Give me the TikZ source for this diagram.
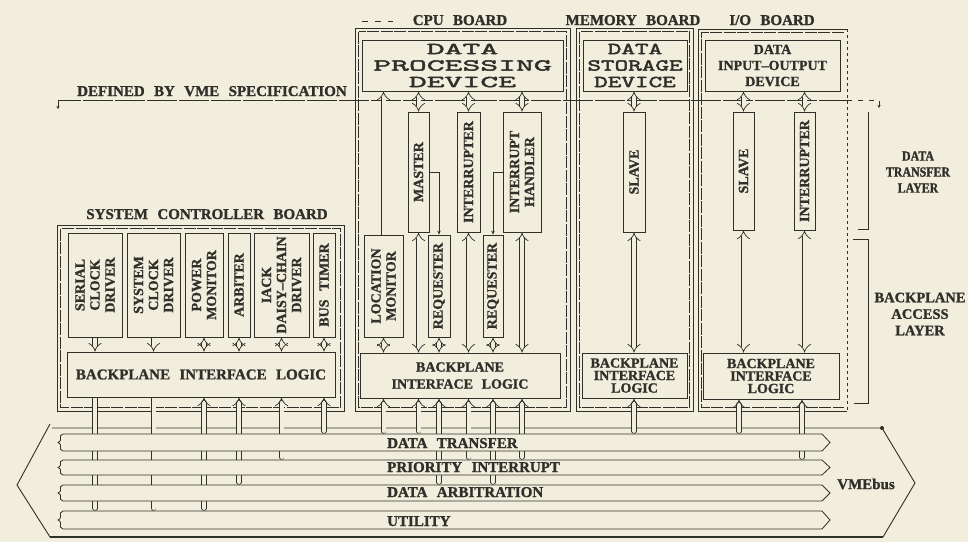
\documentclass[tikz,border=0pt]{standalone}
\usepackage{fontspec}
\setmainfont{Liberation Serif}
\newfontfamily\labfont[WordSpace=2.5, FakeBold=1.2]{Liberation Serif Bold}
\newfontfamily\condfont[FakeStretch=0.85, FakeBold=1.2]{Liberation Serif Bold}
\newfontfamily\devA[FakeStretch=2.1, FakeBold=3]{Latin Modern Mono}
\newfontfamily\devB[FakeStretch=1.6, FakeBold=3]{Latin Modern Mono}
\usetikzlibrary{arrows.meta}
\definecolor{paper}{RGB}{242,238,222}
\definecolor{ink}{RGB}{48,48,42}
\pgfdeclarelayer{back}
\pgfsetlayers{back,main}
\newcommand\buslane[2]{%
 \filldraw[draw=ink, fill=paper, line width=0.8pt]
 (63,#1) -- (822,#1) -- (830,{(#1+#2)/2}) -- (822,#2) -- (63,#2)
 .. controls (57,{#2-2}) and (64,{(#1+#2)/2+3}) .. (58,{(#1+#2)/2})
 .. controls (64,{(#1+#2)/2-3}) and (57,{#1+2}) .. cycle;}
\begin{document}
\begin{tikzpicture}[x=1pt,y=-1pt,
 ln/.style={draw=ink, line width=0.8pt},
 box/.style={draw=ink, line width=0.8pt, fill=paper, inner sep=0pt},
 hl/.style={font=\fontsize{15}{16}\labfont, text=ink, inner sep=0pt, align=center},
 vl/.style={hl, font=\fontsize{14}{15}\labfont, rotate=90},
 dev/.style={text=ink, inner sep=0pt, align=center},
 dbl/.style={draw=ink, line width=0.7pt, double=paper, double distance=4pt},
 bus/.style={dbl, line cap=round},
 frameo/.style={draw=ink, line width=0.9pt},
 framei/.style={draw=ink, line width=0.45pt, dash pattern=on 12pt off 1.5pt},
 bracket/.style={draw=ink, line width=0.6pt},
 thin/.style={draw=ink, line width=0.8pt, -{Stealth[length=4pt,width=3.5pt]}}]
\useasboundingbox (0,0) rectangle (968,542);

% lane stop coordinates
\coordinate (dtE) at (0,431);
\coordinate (piE) at (0,457);
\coordinate (daE) at (0,482);
\coordinate (utE) at (0,508);

\begin{pgfonlayer}{back}
\fill[paper] (0,0) rectangle (968,542);
% VMEbus outline
\draw[ink, line width=0.9pt] (52,428) -- (882,428) -- (915,483) -- (883,537);
\draw[ink, line width=2pt] (883,537) -- (50,537);
\draw[ink, line width=0.9pt] (50,537) -- (17,485) -- (50,424);
\fill[ink] (882,428) circle (2);
% board frames
\draw[frameo] (57,225) rectangle (344,411);
\draw[framei] (60.5,228.5) rectangle (340.5,407.5);
\draw[frameo] (355,28) rectangle (570,411);
\draw[framei] (358.5,31.5) rectangle (566.5,407.5);
\draw[frameo] (576,28) rectangle (693,411);
\draw[framei] (579.5,31.5) rectangle (689.5,407.5);
\draw[frameo] (847,29) -- (698,29) -- (698,411) -- (847,411);
\draw[frameo, dashed] (847,29) -- (847,411);
\draw[framei] (843.5,32.5) -- (701.5,32.5) -- (701.5,407.5) -- (843.5,407.5);
% VME specification line
\draw[ln, dash pattern=on 30pt off 2pt, {Stealth[length=3pt,width=3pt]}-] (58,109) -- (58,100) -- (847,100);
\draw[ln, dash pattern=on 5pt off 6pt, -{Stealth[length=3pt,width=3pt]}] (847,100) -- (879,100) -- (879,108);
\draw[ln, dash pattern=on 6pt off 7pt] (362,21) -- (393,21);
% layer brackets
\draw[bracket] (858,229) -- (868,229) -- (868,112);
\draw[bracket] (853,239) -- (868,239) -- (868,403) -- (854,403);
\end{pgfonlayer}

% ---------- system controller board ----------
\node[box, minimum width=54, minimum height=104] (serial) at (95,285) {};
\node[box, minimum width=53, minimum height=104] (sysclk) at (153.5,285) {};
\node[box, minimum width=38, minimum height=104] (power) at (204,285) {};
\node[box, minimum width=22, minimum height=104] (arbiter) at (239,285) {};
\node[box, minimum width=55, minimum height=104] (iack) at (281.5,285) {};
\node[box, minimum width=22, minimum height=104] (bustimer) at (324,285) {};
\node[box, minimum width=268, minimum height=45] (scbil) at (201,374.5) {};

% ---------- CPU board ----------
\node[box, minimum width=201, minimum height=51] (dpd) at (462.5,65.5) {};
\node[box, minimum width=21, minimum height=120] (master) at (418.5,172) {};
\node[box, minimum width=23, minimum height=120] (intr) at (468.5,172) {};
\node[box, minimum width=38, minimum height=120] (handler) at (522,172) {};
\node[box, minimum width=39, minimum height=102] (locmon) at (383.5,286) {};
\node[box, minimum width=22, minimum height=102] (req1) at (439,286) {};
\node[box, minimum width=20, minimum height=102] (req2) at (493,286) {};
\node[box, minimum width=200, minimum height=45] (cpubil) at (460,375.5) {};

% ---------- memory board ----------
\node[box, minimum width=104, minimum height=51] (dsd) at (635,65.5) {};
\node[box, minimum width=22, minimum height=120] (mslave) at (634,172) {};
\node[box, minimum width=105, minimum height=45] (membil) at (634.5,375.5) {};

% ---------- I/O board ----------
\node[box, minimum width=135, minimum height=51] (diod) at (772.5,65.5) {};
\node[box, minimum width=21, minimum height=118] (ioslave) at (743.5,171) {};
\node[box, minimum width=21, minimum height=118] (iointr) at (804.5,171) {};
\node[box, minimum width=136, minimum height=46] (iobil) at (771,376) {};

\begin{pgfonlayer}{back}
% system controller internal
\draw[dbl, -{Implies}] (serial.south) -- (serial |- scbil.north);
\draw[dbl, -{Implies}] (sysclk.south) -- (sysclk |- scbil.north);
\draw[dbl, {Implies}-{Implies}] (power.south) -- (power |- scbil.north);
\draw[dbl, {Implies}-{Implies}] (arbiter.south) -- (arbiter |- scbil.north);
\draw[dbl, {Implies}-{Implies}] (iack.south) -- (iack |- scbil.north);
\draw[dbl, {Implies}-{Implies}] (bustimer.south) -- (bustimer |- scbil.north);
% CPU internal
\draw[dbl, {Implies}-{Implies}] (master |- dpd.south) -- (master.north);
\draw[dbl, {Implies}-{Implies}] (intr |- dpd.south) -- (intr.north);
\draw[dbl, {Implies}-{Implies}] (handler |- dpd.south) -- (handler.north);
\draw[dbl, {Implies}-] (locmon |- dpd.south) -- (locmon.north);
\draw[dbl, {Implies}-{Implies}] (master.south) -- (master |- cpubil.north);
\draw[dbl, {Implies}-{Implies}] (intr.south) -- (intr |- cpubil.north);
\draw[dbl, {Implies}-{Implies}] (handler.south) -- (handler |- cpubil.north);
\draw[dbl, {Implies}-{Implies}] (locmon.south) -- (locmon |- cpubil.north);
\draw[dbl, {Implies}-{Implies}] (req1.south) -- (req1 |- cpubil.north);
\draw[dbl, {Implies}-{Implies}] (req2.south) -- (req2 |- cpubil.north);
% memory internal
\draw[dbl, {Implies}-{Implies}] (mslave |- dsd.south) -- (mslave.north);
\draw[dbl, {Implies}-{Implies}] (mslave.south) -- (mslave |- membil.north);
% I/O internal
\draw[dbl, {Implies}-{Implies}] (ioslave |- diod.south) -- (ioslave.north);
\draw[dbl, {Implies}-{Implies}] (iointr |- diod.south) -- (iointr.north);
\draw[dbl, {Implies}-{Implies}] (ioslave.south) -- (ioslave |- iobil.north);
\draw[dbl, {Implies}-{Implies}] (iointr.south) -- (iointr |- iobil.north);
% bus connections
\draw[bus] (serial |- scbil.south) -- (serial |- utE);
\draw[bus] (sysclk |- scbil.south) -- (sysclk |- utE);
\draw[bus, {Implies}-] (power |- scbil.south) -- (power |- utE);
\draw[bus, {Implies}-] (arbiter |- scbil.south) -- (arbiter |- daE);
\draw[bus, {Implies}-] (iack |- scbil.south) -- (iack |- piE);
\draw[bus, {Implies}-] (bustimer |- scbil.south) -- (bustimer |- dtE);
\draw[bus, {Implies}-] (locmon |- cpubil.south) -- (locmon |- dtE);
\draw[bus, {Implies}-] (master |- cpubil.south) -- (master |- dtE);
\draw[bus, {Implies}-] (req1 |- cpubil.south) -- (req1 |- daE);
\draw[bus, {Implies}-] (intr |- cpubil.south) -- (intr |- piE);
\draw[bus, {Implies}-] (req2 |- cpubil.south) -- (req2 |- daE);
\draw[bus, {Implies}-] (handler |- cpubil.south) -- (handler |- piE);
\draw[bus, {Implies}-] (mslave |- membil.south) -- (mslave |- dtE);
\draw[bus, {Implies}-] (739,0 |- iobil.south) -- (739,0 |- dtE);
\draw[bus, {Implies}-] (802,0 |- iobil.south) -- (802,0 |- piE);
\end{pgfonlayer}

% thin requester links
\draw[thin] (master.east) -| (req1.north);
\draw[thin] (handler.west) -| (req2.north);

% bus lanes
\buslane{434}{451}
\buslane{460}{475}
\buslane{485}{501}
\buslane{511}{529}

% ---------- labels ----------
\node[hl, anchor=base] at (207,219) {SYSTEM CONTROLLER BOARD};
\node[hl, anchor=base] at (460,25) {CPU BOARD};
\node[hl, anchor=base] at (633,25) {MEMORY BOARD};
\node[hl, anchor=base] at (772,25) {I/O BOARD};
\node[hl, anchor=base west] at (77,96) {DEFINED BY VME SPECIFICATION};

\node[vl] at (serial) {SERIAL\\CLOCK\\DRIVER};
\node[vl] at (sysclk) {SYSTEM\\CLOCK\\DRIVER};
\node[vl] at (power) {POWER\\MONITOR};
\node[vl] at (arbiter) {ARBITER};
\node[vl] at (iack) {IACK\\DAISY–CHAIN\\DRIVER};
\node[vl] at (bustimer) {BUS TIMER};
\node[hl] at (scbil) {BACKPLANE INTERFACE LOGIC};

\node[dev, font=\fontsize{16.5}{16.5}\devA] at (dpd) {DATA\\PROCESSING\\DEVICE};
\node[vl] at (master) {MASTER};
\node[vl] at (intr) {INTERRUPTER};
\node[vl] at (handler) {INTERRUPT\\HANDLER};
\node[vl] at (locmon) {LOCATION\\MONITOR};
\node[vl] at (req1) {REQUESTER};
\node[vl] at (req2) {REQUESTER};
\node[hl, font=\fontsize{14}{17}\labfont] at (cpubil) {BACKPLANE\\INTERFACE LOGIC};

\node[dev, font=\fontsize{16.5}{16.5}\devB] at (dsd) {DATA\\STORAGE\\DEVICE};
\node[vl] at (mslave) {SLAVE};
\node[hl, font=\fontsize{14}{12.5}\labfont] at (membil) {BACKPLANE\\INTERFACE\\LOGIC};

\node[hl, font=\fontsize{14}{16}\labfont] at (diod) {DATA\\INPUT–OUTPUT\\DEVICE};
\node[vl] at (ioslave) {SLAVE};
\node[vl] at (iointr) {INTERRUPTER};
\node[hl, font=\fontsize{14}{12.5}\labfont] at (iobil) {BACKPLANE\\INTERFACE\\LOGIC};

\node[hl, anchor=base west] at (387,448) {DATA TRANSFER};
\node[hl, anchor=base west] at (387,472) {PRIORITY INTERRUPT};
\node[hl, anchor=base west] at (387,497) {DATA ARBITRATION};
\node[hl, anchor=base west] at (387,526) {UTILITY};
\node[hl] at (866,484) {VMEbus};

\node[hl, font=\fontsize{14}{16}\condfont] at (918,172) {DATA\\TRANSFER\\LAYER};
\node[hl, font=\fontsize{14.5}{16.5}\labfont] at (920,314) {BACKPLANE\\ACCESS\\LAYER};
\end{tikzpicture}
\end{document}
